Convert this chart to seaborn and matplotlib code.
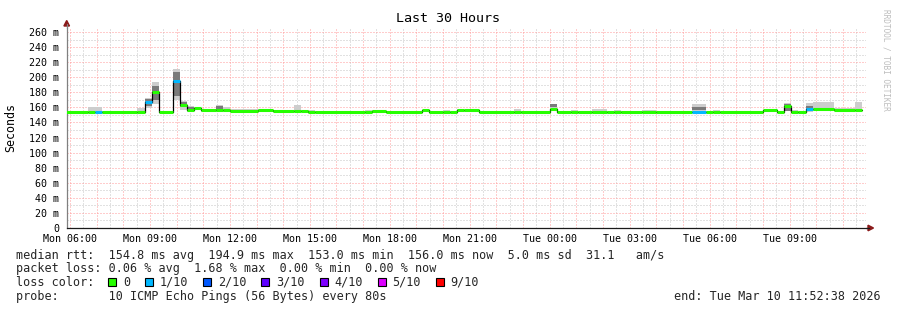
import numpy as np
import pandas as pd
import matplotlib
matplotlib.use("Agg")
import matplotlib.pyplot as plt
import seaborn as sns
from matplotlib.patches import Rectangle, Polygon
from matplotlib.lines import Line2D

# ---------------- data ----------------
# start of each segment, as 16-minute slot index counted from Mon 00:00
slot_start = [22, 25, 26, 27, 32, 33, 34, 35, 37, 38, 39, 40, 41, 43, 44, 45, 49, 51,
              54, 55, 56, 57, 64, 65, 67, 72, 73, 75, 76, 77, 78, 80, 85, 86, 90, 91,
              93, 94, 96, 98, 99, 100, 103, 105, 110, 112, 113, 114, 120, 122, 123,
              124, 125, 126, 127, 130, 133]
slot_end = 134
median_ms = [153.8, 153.8, 153.8, 153.8, 153.8, 167.5, 181.0, 153.8, 194.9, 163.0, 156.5,
             158.5, 156.5, 156.5, 156.5, 155.5, 157.0, 155.5, 155.5, 155.5, 154.5, 153.8,
             153.8, 155.5, 153.5, 156.0, 153.5, 153.5, 153.5, 157.0, 156.0, 153.5, 153.5,
             153.5, 158.0, 153.5, 153.5, 153.5, 153.5, 153.5, 153.5, 153.5, 153.5, 153.5,
             154.3, 153.5, 153.5, 153.5, 156.0, 153.5, 162.0, 153.3, 153.3, 157.5, 157.5,
             157.0, 157.0]
smoke_lo = [153, 153, 153, 153, 153, 159, 165, 153, 170, 157, 154, 156, 154, 154, 154, 154,
            155, 154, 154, 154, 153, 153, 153, 154, 153, 154, 153, 153, 153, 155, 154, 153,
            153, 153, 155, 153, 153, 153, 153, 153, 153, 153, 153, 153, 153, 153, 153, 153,
            154, 153, 155, 153, 153, 154, 155, 155, 156]
smoke_hi = [154.5, 160, 160, 155, 159, 172, 193, 155, 211, 169, 162, 160, 158, 163, 160, 158,
            158, 157, 163, 156, 157, 155, 157, 157, 155, 157, 155, 157, 155, 158, 157, 155,
            158, 155, 165, 155, 157, 155, 158, 155, 157, 155, 157, 155, 164, 155, 157, 155,
            157, 155, 166, 157, 155, 166, 167, 159, 167]
core_lo = [0, 0, 0, 0, 0, 162, 170, 0, 175, 160, 155, 0, 0, 157, 0, 0, 0, 0, 0, 0, 0, 0, 0,
           0, 0, 0, 0, 0, 0, 0, 0, 0, 0, 0, 160, 0, 0, 0, 0, 0, 0, 0, 0, 0, 156, 0, 0, 0, 0,
           0, 155, 0, 0, 156, 0, 0, 0]
core_hi = [0, 0, 0, 0, 0, 171, 188, 0, 207, 167, 161, 0, 0, 162, 0, 0, 0, 0, 0, 0, 0, 0, 0,
           0, 0, 0, 0, 0, 0, 0, 0, 0, 0, 0, 165, 0, 0, 0, 0, 0, 0, 0, 0, 0, 161, 0, 0, 0, 0,
           0, 164, 0, 0, 162, 0, 0, 0]
loss_level = [0, 0, 1, 0, 0, 1, 0, 0, 1, 0, 0, 0, 0, 0, 0, 0, 0, 0, 0, 0, 0, 0, 0, 0, 0, 0,
              0, 0, 0, 0, 0, 0, 0, 0, 0, 0, 0, 0, 0, 0, 0, 0, 0, 0, 1, 0, 0, 0, 0, 0, 0, 0,
              0, 1, 0, 0, 0]

loss_labels = ["0", "1/10", "2/10", "3/10", "4/10", "5/10", "9/10"]
loss_colors = ["#26ff00", "#00b8ff", "#0059ff", "#5e00ff", "#7e00ff", "#dd00ff", "#ff0000"]

x_tick_hours = [6, 9, 12, 15, 18, 21, 24, 27, 30, 33]
x_tick_labels = ["Mon 06:00", "Mon 09:00", "Mon 12:00", "Mon 15:00", "Mon 18:00",
                 "Mon 21:00", "Tue 00:00", "Tue 03:00", "Tue 06:00", "Tue 09:00"]
y_tick_values = list(range(0, 261, 20))
y_tick_labels = ["0"] + [f"{v} m" for v in y_tick_values[1:]]

title_text = "Last 30 Hours"
y_label = "Seconds"
legend_rtt = "median rtt:  154.8 ms avg  194.9 ms max  153.0 ms min  156.0 ms now  5.0 ms sd  31.1   am/s"
legend_loss = "packet loss: 0.06 % avg  1.68 % max  0.00 % min  0.00 % now"
legend_color = "loss color:"
legend_probe = "probe:       10 ICMP Echo Pings (56 Bytes) every 80s"
end_text = "end: Tue Mar 10 11:52:38 2026"
x_start_h, x_end_h = 5.877, 35.877

# ---------------- derived table ----------------
slot_h = 16 / 60.0
starts = np.array(slot_start) * slot_h
ends = np.append(starts[1:], slot_end * slot_h)
df = pd.DataFrame({"start": starts, "end": ends, "median": median_ms,
                   "lo": smoke_lo, "hi": smoke_hi, "clo": core_lo, "chi": core_hi,
                   "loss": loss_level})
df["width"] = df["end"] - df["start"]

step_df = pd.DataFrame({"t": np.append(df["start"].values, df["end"].values[-1]),
                        "v": np.append(df["median"].values, df["median"].values[-1])})

# ---------------- figure ----------------
sns.set_theme(style="white")
plt.rcParams["font.family"] = ["DejaVu Sans Mono", "DejaVu Sans"]

W, H = 897, 310
fig = plt.figure(figsize=(W / 100, H / 100), dpi=100)
fig.patch.set_facecolor("white")

def fx(px):
    return px / W

def fy(py):
    return 1 - py / H

x_left, x_right = 66.7, 866.2
y_bottom = 228.0
y_max = 265.0
y_top = y_bottom - y_max * 0.754
ax = fig.add_axes([fx(x_left), fy(y_bottom), (x_right - x_left) / W, (y_bottom - y_top) / H])
ax.set_facecolor("white")
ax.set_xlim(x_start_h, x_end_h)
ax.set_ylim(0, y_max)

# grid
major_y = np.arange(0, 261, 20)
minor_y = np.arange(10, 261, 20)
hours = np.arange(6, 36, 1)
half_hours = np.arange(6.5, 36, 1)
ax.set_yticks(major_y)
ax.set_yticklabels(y_tick_labels)
ax.set_yticks(minor_y, minor=True)
xlabels = []
for hh in hours:
    xlabels.append(x_tick_labels[x_tick_hours.index(hh)] if hh in x_tick_hours else "")
ax.set_xticks(hours)
ax.set_xticklabels(xlabels)
ax.set_xticks(half_hours, minor=True)

dots = (0, (1, 2))
ax.grid(which="major", color="#ff9a9a", linestyle=dots, linewidth=0.72)
ax.grid(which="minor", color="#c4c4c4", linestyle=dots, linewidth=0.72)
ax.set_axisbelow(True)

ax.tick_params(axis="y", which="major", length=2, width=0.7, color="#707070",
               pad=3.2, labelsize=7.2, labelcolor="#000000")
ax.tick_params(axis="y", which="minor", length=0)
ax.tick_params(axis="x", which="both", length=0, pad=4.0, labelsize=7.2,
               labelcolor="#000000")

for s in ["top", "right"]:
    ax.spines[s].set_visible(False)
ax.spines["left"].set_color("#808080")
ax.spines["left"].set_linewidth(0.9)
ax.spines["bottom"].set_color("#1a1a1a")
ax.spines["bottom"].set_linewidth(0.9)

# smoke
ax.bar(df["start"], df["hi"] - df["lo"], width=df["width"], bottom=df["lo"],
       align="edge", color="#cdcdcd", linewidth=0, zorder=2)
core = df[df["chi"] > 0]
ax.bar(core["start"], core["chi"] - core["clo"], width=core["width"], bottom=core["clo"],
       align="edge", color="#7a7a7a", linewidth=0, zorder=3)

# black median step line
sns.lineplot(data=step_df, x="t", y="v", drawstyle="steps-post", color="#000000",
             linewidth=0.9, ax=ax, zorder=4, legend=False)
ax.set_xlabel("")
ax.set_ylabel("")

# coloured median by loss level
ax.hlines(df["median"], df["start"], df["end"],
          colors=[loss_colors[l] for l in df["loss"]], linewidth=2.2, zorder=5)

# axis arrows
fig.add_artist(Line2D([fx(x_left), fx(x_left)], [fy(y_top), fy(24)],
                      color="#808080", lw=0.9, transform=fig.transFigure))
fig.add_artist(Polygon([[fx(x_left - 2.8), fy(26)], [fx(x_left + 2.8), fy(26)],
                        [fx(x_left), fy(20.5)]], closed=True, color="#8b1a1a",
                       transform=fig.transFigure))
fig.add_artist(Line2D([fx(x_right), fx(869)], [fy(y_bottom), fy(y_bottom)],
                      color="#1a1a1a", lw=0.9, transform=fig.transFigure))
fig.add_artist(Polygon([[fx(868), fy(y_bottom - 2.8)], [fx(868), fy(y_bottom + 2.8)],
                        [fx(873.5), fy(y_bottom)]], closed=True, color="#8b1a1a",
                       transform=fig.transFigure))

# texts
fig.text(fx(448), fy(19), title_text, ha="center", va="center", fontsize=9.6, color="#000000")
fig.text(fx(11), fy(127), y_label, ha="center", va="center", rotation=90,
         fontsize=8.4, color="#000000")
fig.text(fx(886), fy(60), "RRDTOOL / TOBI OETIKER", ha="center", va="center",
         rotation=270, fontsize=5.6, color="#bdbdbd")

lx = 16
fs = 8.43
fig.text(fx(lx), fy(255), legend_rtt, ha="left", va="center", fontsize=fs)
fig.text(fx(lx), fy(268.5), legend_loss, ha="left", va="center", fontsize=fs)
fig.text(fx(lx), fy(282.3), legend_color, ha="left", va="center", fontsize=fs)
fig.text(fx(lx), fy(296.5), legend_probe, ha="left", va="center", fontsize=fs)
fig.text(fx(881), fy(296.5), end_text, ha="right", va="center", fontsize=fs)

char_w = 7.05
sx = 108.3
for lab, col in zip(loss_labels, loss_colors):
    fig.add_artist(Rectangle((fx(sx), fy(286.2)), 8 / W, 8 / H, facecolor=col,
                             edgecolor="#000000", linewidth=0.8, transform=fig.transFigure))
    tx = sx + 14.7
    fig.text(fx(tx), fy(282.3), lab, ha="left", va="center", fontsize=fs)
    sx = tx + len(lab) * char_w + 15.2

fig.savefig("out.png", dpi=100, facecolor="white")
